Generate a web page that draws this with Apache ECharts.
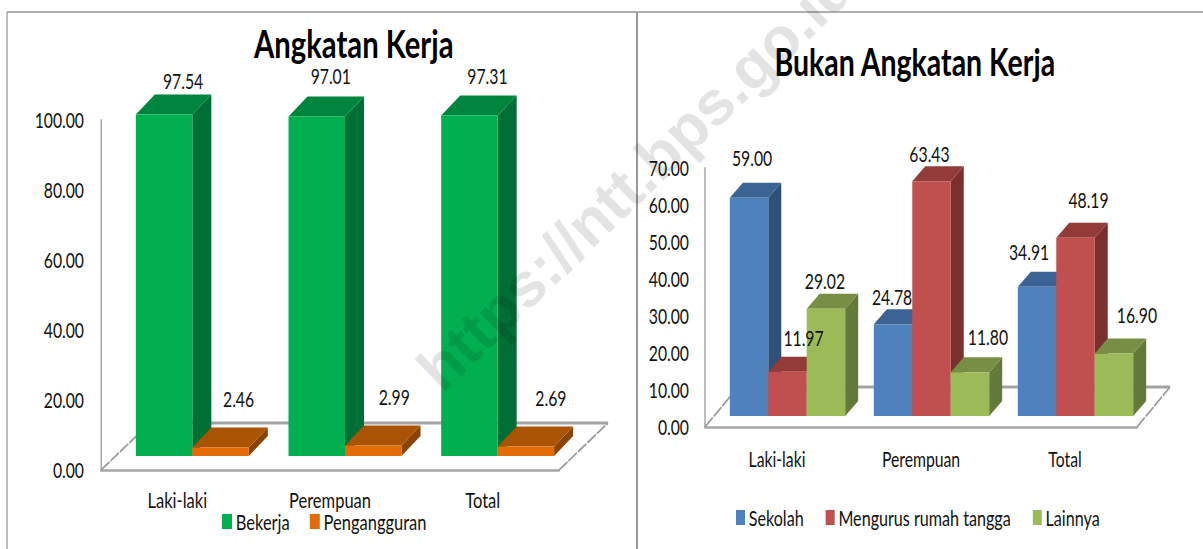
<!DOCTYPE html>
<html>
<head>
<meta charset="utf-8">
<title>Angkatan Kerja</title>
<script src="https://cdn.jsdelivr.net/npm/echarts@6/dist/echarts.min.js"></script>
<style>
  html, body { margin: 0; padding: 0; background: #fff; width: 1203px; height: 549px; overflow: hidden; }
  /* the source picture is squeezed sideways, so the whole chart is too */
  #chart { width: 1604px; height: 549px; transform: scaleX(0.75); transform-origin: 0 0; }
</style>
</head>
<body>
<div id="chart"></div>
<script>
  var categories = ['Laki-laki', 'Perempuan', 'Total'];

  var bekerja = [97.54, 97.01, 97.31];
  var pengangguran = [2.46, 2.99, 2.69];

  var sekolah = [59.00, 24.78, 34.91];
  var rumahTangga = [11.97, 63.43, 48.19];
  var lainnya = [29.02, 11.80, 16.90];

  var ticksKerja = [0, 100, 20];
  var ticksBukan = [0, 70, 10];

  var squeeze = 0.75;
  var fontName = 'Lato, sans-serif';
  var lineGrey = '#a6a6a6';

  // screen x to chart x
  function sx(x) { return x / squeeze; }

  // the hand moved labels of the original, relative to the bar
  var nudgeBekerja = [[0, 0], [-5, -6], [-1, -5]];
  var nudgePengangguran = [[-1, -14], [2, -14], [6, -14]];
  var nudgeSekolah = [[-10, -11], [-14, 2], [-21, -6]];
  var nudgeRumah = [[3, -5], [-15, 2], [0, -9]];
  var nudgeLainnya = [[-14, 1], [5, -6], [10, -9]];

  // front, top and side colour of a bar
  var shadeGreen = ['#00b050', '#00853f', '#006f36'];
  var shadeOrange = ['#e36c09', '#ab5305', '#8a4304'];
  var shadeBlue = ['#4f81bd', '#3b6494', '#2f5179'];
  var shadeRed = ['#c0504d', '#933b39', '#7b2f2e'];
  var shadeLime = ['#9bbb59', '#768f44', '#647a39'];

  var look = {
    kerja: { gridIndex: 0, barRatio: 0.37, shift: [15, 14], depth: [19, 20], count: 2 },
    bukan: { gridIndex: 1, barRatio: 0.267, shift: [10.5, 11], depth: [13, 15], count: 3 }
  };

  function barSeries(name, values, shade, nudge, slot, panel) {
    return {
      name: name,
      type: 'custom',
      xAxisIndex: panel.gridIndex,
      yAxisIndex: panel.gridIndex,
      clip: false,
      z: 3,
      itemStyle: { color: shade[0] },
      data: values.map(function (v, i) { return [i, v]; }),
      encode: { x: 0, y: 1 },
      renderItem: function (params, api) {
        var cat = api.value(0);
        var val = api.value(1);
        var base = api.coord([cat, 0]);
        var top = api.coord([cat, val]);
        var w = api.size([1, 0])[0] * panel.barRatio;
        var x0 = base[0] + sx(panel.shift[0]) + (slot - panel.count / 2) * w;
        var x1 = x0 + w;
        var y0 = base[1] - panel.shift[1];
        var y1 = top[1] - panel.shift[1];
        var dx = sx(panel.depth[0]);
        var dy = panel.depth[1];
        var n = nudge[params.dataIndex];
        return {
          type: 'group',
          children: [
            { type: 'polygon', shape: { points: [[x1, y0], [x1 + dx, y0 - dy], [x1 + dx, y1 - dy], [x1, y1]] }, style: { fill: shade[2] } },
            { type: 'polygon', shape: { points: [[x0, y1], [x1, y1], [x1 + dx, y1 - dy], [x0 + dx, y1 - dy]] }, style: { fill: shade[1] } },
            { type: 'rect', shape: { x: x0, y: y1, width: w, height: y0 - y1 }, style: { fill: shade[0] } },
            {
              type: 'text',
              z2: 100,
              style: {
                x: (x0 + x1) / 2 + dx + sx(n[0]),
                y: y1 - dy - 14 + n[1],
                text: val.toFixed(2),
                font: '21px ' + fontName,
                fill: '#111',
                align: 'center',
                verticalAlign: 'middle'
              }
            }
          ]
        };
      }
    };
  }

  // floor of the 3d plot: back edge and the two side edges
  function floorSeries(panel, offset) {
    return {
      type: 'custom',
      xAxisIndex: panel.gridIndex,
      yAxisIndex: panel.gridIndex,
      silent: true,
      clip: false,
      z: 1,
      data: [[0, 0]],
      encode: { x: 0, y: 1 },
      renderItem: function (params) {
        var c = params.coordSys;
        var b = c.y + c.height;
        var r = c.x + c.width;
        var ox = sx(offset[0]);
        var oy = offset[1];
        return {
          type: 'group',
          children: [
            { type: 'polyline', shape: { points: [[c.x + ox, b - oy], [r + ox, b - oy]] }, style: { stroke: '#a3a3a3', lineWidth: 3, fill: null } },
            { type: 'polyline', shape: { points: [[c.x, b], [c.x + ox, b - oy]] }, style: { stroke: '#9a9a9a', lineWidth: 2, lineDash: [14, 1.5], fill: null } },
            { type: 'polyline', shape: { points: [[r, b], [r + ox, b - oy]] }, style: { stroke: '#9a9a9a', lineWidth: 2, lineDash: [14, 1.5], fill: null } }
          ]
        };
      }
    };
  }

  function xAxisFor(gridIndex, margin, size) {
    return {
      type: 'category',
      gridIndex: gridIndex,
      data: categories,
      axisTick: { show: false },
      axisLine: { lineStyle: { color: lineGrey, width: 2.5 } },
      axisLabel: { color: '#111', fontFamily: fontName, fontSize: size, margin: margin, interval: 0 }
    };
  }

  function yAxisFor(gridIndex, ticks, margin) {
    return {
      type: 'value',
      gridIndex: gridIndex,
      min: ticks[0],
      max: ticks[1],
      interval: ticks[2],
      splitLine: { show: false },
      axisTick: { show: false },
      axisLine: { show: true, lineStyle: { color: lineGrey, width: sx(1.5) } },
      axisLabel: {
        color: '#111',
        fontFamily: fontName,
        fontSize: 21,
        margin: sx(margin),
        formatter: function (v) { return v.toFixed(2); }
      }
    };
  }

  var myChart = echarts.init(document.getElementById('chart'), null, { renderer: 'svg' });

  myChart.setOption({
    animation: false,
    backgroundColor: '#fff',
    title: [
      { text: 'Angkatan Kerja', left: sx(350), top: 18, textAlign: 'center', textStyle: { fontFamily: fontName, fontSize: 39, fontWeight: 'bold', color: '#000' } },
      { text: 'Bukan Angkatan Kerja', left: sx(911), top: 37, textAlign: 'center', textStyle: { fontFamily: fontName, fontSize: 38, fontWeight: 'bold', color: '#000' } }
    ],
    legend: [
      {
        data: ['Bekerja', 'Pengangguran'], left: sx(222), top: 510.5, padding: 0, orient: 'horizontal',
        icon: 'rect', itemWidth: sx(10), itemHeight: 15, itemGap: sx(20), selectedMode: false,
        textStyle: { fontFamily: fontName, fontSize: 22, color: '#111' }
      },
      {
        data: ['Sekolah', 'Mengurus rumah tangga', 'Lainnya'], left: sx(736), top: 506.5, padding: 0, orient: 'horizontal',
        icon: 'rect', itemWidth: sx(9), itemHeight: 15, itemGap: sx(22), selectedMode: false,
        textStyle: { fontFamily: fontName, fontSize: 21.5, color: '#111' }
      }
    ],
    grid: [
      { left: sx(101), top: 120, width: sx(458), height: 350 },
      { left: sx(705), top: 168, width: sx(432), height: 259 }
    ],
    xAxis: [xAxisFor(0, 19, 22), xAxisFor(1, 21.5, 21)],
    yAxis: [yAxisFor(0, ticksKerja, 17), yAxisFor(1, ticksBukan, 16)],
    series: [
      floorSeries(look.kerja, [49, 47]),
      floorSeries(look.bukan, [33, 40]),
      barSeries('Bekerja', bekerja, shadeGreen, nudgeBekerja, 0, look.kerja),
      barSeries('Pengangguran', pengangguran, shadeOrange, nudgePengangguran, 1, look.kerja),
      barSeries('Sekolah', sekolah, shadeBlue, nudgeSekolah, 0, look.bukan),
      barSeries('Mengurus rumah tangga', rumahTangga, shadeRed, nudgeRumah, 1, look.bukan),
      barSeries('Lainnya', lainnya, shadeLime, nudgeLainnya, 2, look.bukan)
    ],
    graphic: [
      { type: 'line', silent: true, z: 0, shape: { x1: sx(7), y1: 12, x2: sx(1203), y2: 12 }, style: { stroke: '#969696', lineWidth: 1.5 } },
      { type: 'line', silent: true, z: 0, shape: { x1: sx(7), y1: 12, x2: sx(7), y2: 549 }, style: { stroke: lineGrey, lineWidth: sx(1.5) } },
      { type: 'line', silent: true, z: 0, shape: { x1: sx(637), y1: 12, x2: sx(637), y2: 549 }, style: { stroke: '#999', lineWidth: sx(2) } },
      {
        // the watermark sits on the finished picture, so it is not squeezed
        type: 'group', silent: true, z: 50, x: sx(449), y: 401, scaleX: sx(1),
        children: [{
          type: 'text', z: 50, rotation: Math.PI * 44 / 180,
          style: { text: 'https://ntt.bps.go.id', font: 'bold 62px "Liberation Sans", sans-serif', fill: 'rgba(0,0,0,0.11)', verticalAlign: 'bottom' }
        }]
      }
    ]
  });
</script>
</body>
</html>
